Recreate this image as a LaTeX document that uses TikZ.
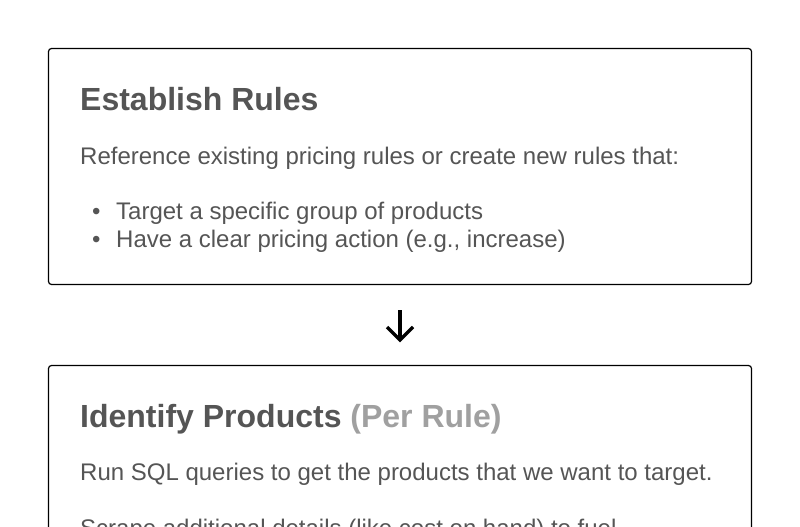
\documentclass[tikz,border=0pt]{standalone}
\usepackage{fontspec}
\setmainfont{Liberation Sans}
\definecolor{txt}{HTML}{555555}
\definecolor{light}{HTML}{A0A0A0}
\tikzset{
  card/.style={draw=black, line width=1.2pt, rounded corners=3pt},
  ttl/.style={anchor=base west, inner sep=0pt, text=txt, font=\fontsize{32}{38}\selectfont\bfseries},
  body/.style={anchor=base west, inner sep=0pt, text=txt, font=\fontsize{24}{28}\selectfont},
  flow/.style={draw=black, line width=3.2pt, line cap=butt, line join=miter}
}
\begin{document}
\begin{tikzpicture}[x=1pt,y=-1pt]
\useasboundingbox (0,0) rectangle (800,527);
\clip (0,0) rectangle (800,527);
\fill[white] (0,0) rectangle (800,527);
\draw[card] (48.5,48.5) rectangle (751.5,284.5);
\node[ttl] (t1) at (80,110) {Establish Rules};
\node[body] (b1) at (80,164) {Reference existing pricing rules or create new rules that:};
\node[body] (d1) at (92,219) {•};
\node[body] (l1) at (116,219) {Target a specific group of products};
\node[body] (d2) at (92,247) {•};
\node[body] (l2) at (116,247) {Have a clear pricing action (e.g., increase)};
\coordinate (a0) at (400,310);
\coordinate (a1) at (400,340);
\coordinate (hl) at (387,327);
\coordinate (hr) at (413,327);
\draw[flow] (a0) -- (a1);
\draw[flow] (hl) -- (a1) -- (hr);
\draw[card] (48.5,365.5) rectangle (751.5,600);
\node[ttl] (t2) at (80,427) {Identify Products \textcolor{light}{(Per Rule)}};
\node[body] (b2) at (80,480) {Run SQL queries to get the products that we want to target.};
\node[body] (b3) at (80,536) {Scrape additional details (like cost on hand) to fuel};
\end{tikzpicture}
\end{document}
